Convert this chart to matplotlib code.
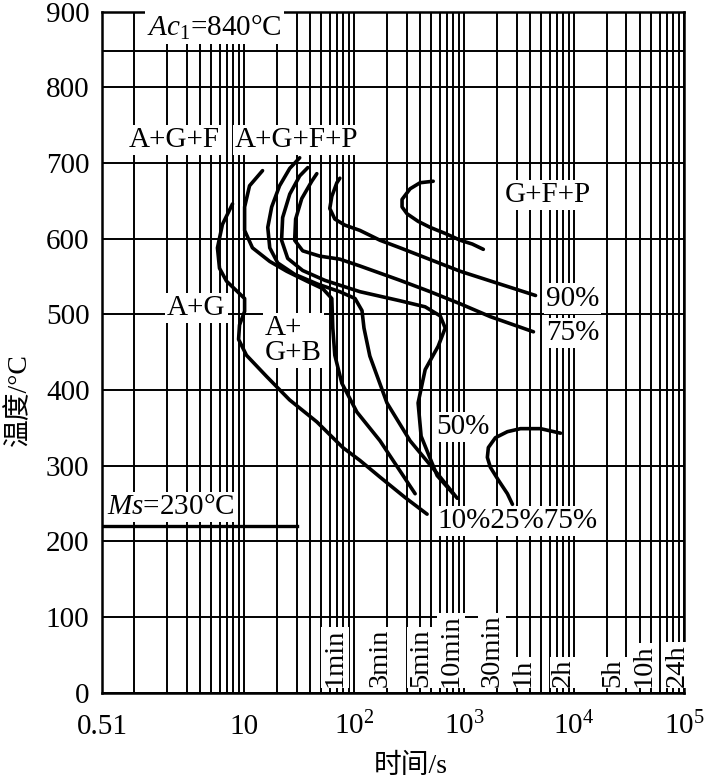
import numpy as np
import matplotlib
matplotlib.use("Agg")
import matplotlib.pyplot as plt

plt.rcParams['font.family'] = ['Liberation Serif', 'Noto Sans CJK SC', 'DejaVu Sans']
plt.rcParams['mathtext.fontset'] = 'custom'
plt.rcParams['mathtext.rm'] = 'Liberation Serif'
plt.rcParams['mathtext.it'] = 'Liberation Serif:italic'

# critical temperatures (as drawn)
AC1_TEMP = 848
MS_TEMP = 220
MS_END_TIME = 30

# transformation lines, time in s / temperature in C
curve_a_t = [7.84, 6.35, 5.72, 5.97, 6.91, 8.71, 10.1, 10.1, 9.08, 8.9, 10.5, 16.0, 25.9, 45.8, 79, 113, 172, 291, 461]
curve_a_T = [646, 619, 588, 561, 544, 530, 521, 504, 486, 467, 446, 418, 387, 358, 324, 307, 285, 258, 236]

curve_b_t = [14.7, 11.2, 10.1, 10.1, 11.9, 17.1, 24.4, 37.1, 51.9, 62.7, 64, 66.8, 77.4, 106, 172, 359]
curve_b_T = [690, 670, 642, 611, 588, 570, 557, 544, 534, 521, 482, 446, 409, 371, 333, 263]

curve_c1_t = [32.0, 26.0, 21.0, 17.8, 16.4, 17.1, 20.2, 28.8, 46.7, 74.2, 102, 118, 123, 139, 199, 323, 569, 867]
curve_c1_T = [707, 693, 670, 642, 615, 588, 568, 553, 540, 530, 521, 505, 482, 445, 383, 333, 290, 257]

curve_c2_t = [37.9, 32, 26, 22.4, 21.9, 24.9, 34.1, 54.2, 113, 262, 443, 607, 674, 582, 443, 382, 407, 569, 796]
curve_c2_T = [694, 683, 659, 628, 598, 574, 558, 545, 530, 518, 510, 498, 482, 458, 427, 383, 339, 287, 263]

curve_75_t = [45.8, 41.2, 33.4, 29.4, 28.8, 34.1, 48.8, 74.2, 113, 262, 492, 923, 1734, 4276]
curve_75_T = [686, 676, 653, 626, 598, 584, 577, 573, 564, 545, 530, 514, 497, 477]

curve_90_t = [74.2, 69.7, 62.7, 60.1, 66.8, 82.4, 113, 172, 262, 923, 4467]
curve_90_T = [680, 674, 656, 640, 626, 618, 611, 598, 588, 557, 525]

curve_gfp_t = [524, 398, 323, 273, 273, 303, 382, 492, 674, 923, 1188, 1497]
curve_gfp_T = [676, 674, 666, 652, 642, 633, 623, 615, 607, 598, 593, 586]

curve_low_t = [7548, 4955, 3258, 2479, 1927, 1663, 1629, 1734, 2051, 2479, 2754]
curve_low_T = [343, 349, 349, 345, 337, 324, 311, 298, 281, 263, 249]

# x axis ticks
x_ticks = [0.51, 10, 1e2, 1e3, 1e4, 1e5]
x_tick_labels = ['0.51', '10', r'$10^2$', r'$10^3$', r'$10^4$', r'$10^5$']
y_ticks = list(range(0, 901, 100))

# time marks along the bottom
time_marks = ['1min', '3min', '5min', '10min', '30min', '1h', '2h', '5h', '10h', '24h']
time_mark_pos = [66.8, 172, 407, 764, 1808, 3467, 8035, 22490, 43150, 86300]

fig = plt.figure(figsize=(7.09, 7.83), dpi=100)
ax = fig.add_axes([0.1439, 0.1153, 0.8208, 0.8697])

ax.set_xscale('log')
ax.set_xlim(0.51, 1e5)
ax.set_ylim(0, 900)

# log grid: every 1..9 x 10^n
minor = [k * 10.0 ** n for n in range(0, 5) for k in range(1, 10)]
ax.set_xticks(minor, minor=True)
ax.set_xticks(x_ticks)
ax.set_xticklabels(x_tick_labels)
ax.set_yticks(y_ticks)
ax.tick_params(axis='both', which='both', length=0, labelsize=21)
ax.tick_params(axis='x', which='minor', labelbottom=False)
ax.tick_params(axis='x', pad=30)
ax.tick_params(axis='y', pad=9)
for lab in ax.get_xticklabels():
    lab.set_verticalalignment('baseline')
ax.grid(True, which='both', color='black', linewidth=1.4, zorder=0)
ax.set_axisbelow(True)
for s in ax.spines.values():
    s.set_linewidth(1.8)

ax.axhline(AC1_TEMP, color='black', linewidth=1.4, zorder=1)
ax.plot([0.51, MS_END_TIME], [MS_TEMP, MS_TEMP], color='black', linewidth=2.4, zorder=3)

curves = [(curve_a_t, curve_a_T), (curve_b_t, curve_b_T), (curve_c1_t, curve_c1_T),
          (curve_c2_t, curve_c2_T), (curve_75_t, curve_75_T), (curve_90_t, curve_90_T),
          (curve_gfp_t, curve_gfp_T), (curve_low_t, curve_low_T)]
for t, T in curves:
    ax.plot(t, T, color='black', linewidth=2.6, solid_joinstyle='round',
            solid_capstyle='round', zorder=6)

box = dict(facecolor='white', edgecolor='none', pad=1.5)
fs = 21
ax.text(1.31, 879, r'$Ac_1$=840°C', fontsize=21, ha='left', va='center', bbox=box, zorder=5)
ax.text(2.32, 730, 'A+G+F', fontsize=fs, ha='center', va='center', bbox=box, zorder=5)
ax.text(30.1, 730, 'A+G+F+P', fontsize=fs, ha='center', va='center', bbox=box, zorder=5)
ax.text(5741, 658, 'G+F+P', fontsize=fs, ha='center', va='center', bbox=box, zorder=5)
ax.text(9710, 521, '90%', fontsize=fs, ha='center', va='center', bbox=box, zorder=5)
ax.text(9710, 476, '75%', fontsize=fs, ha='center', va='center', bbox=box, zorder=5)
ax.text(3.68, 509, 'A+G', fontsize=fs, ha='center', va='center', bbox=box, zorder=5)
ax.text(15.4, 465, 'A+\nG+B', fontsize=fs, ha='left', va='center', linespacing=0.95,
        multialignment='left', bbox=box, zorder=5)
ax.text(984, 351, '50%', fontsize=fs, ha='center', va='center', bbox=box, zorder=5)
ax.text(3056, 227, '10%25%75%', fontsize=fs, ha='center', va='center', bbox=box, zorder=5)
ax.text(0.567, 246, r'$Ms$=230°C', fontsize=21, ha='left', va='center', bbox=box, zorder=5)

for lab, t in zip(time_marks, time_mark_pos):
    ax.text(t, 8, lab, fontsize=20.5, rotation=90, ha='center', va='bottom',
            bbox=dict(facecolor='white', edgecolor='none', pad=1), zorder=5)

ax.set_ylabel('温度/°C', fontsize=20)
ax.yaxis.set_label_coords(-0.12, 0.43)
ax.set_xlabel('时间/s', fontsize=20)
ax.xaxis.set_label_coords(0.531, -0.09)

fig.savefig('out.png', dpi=100)
